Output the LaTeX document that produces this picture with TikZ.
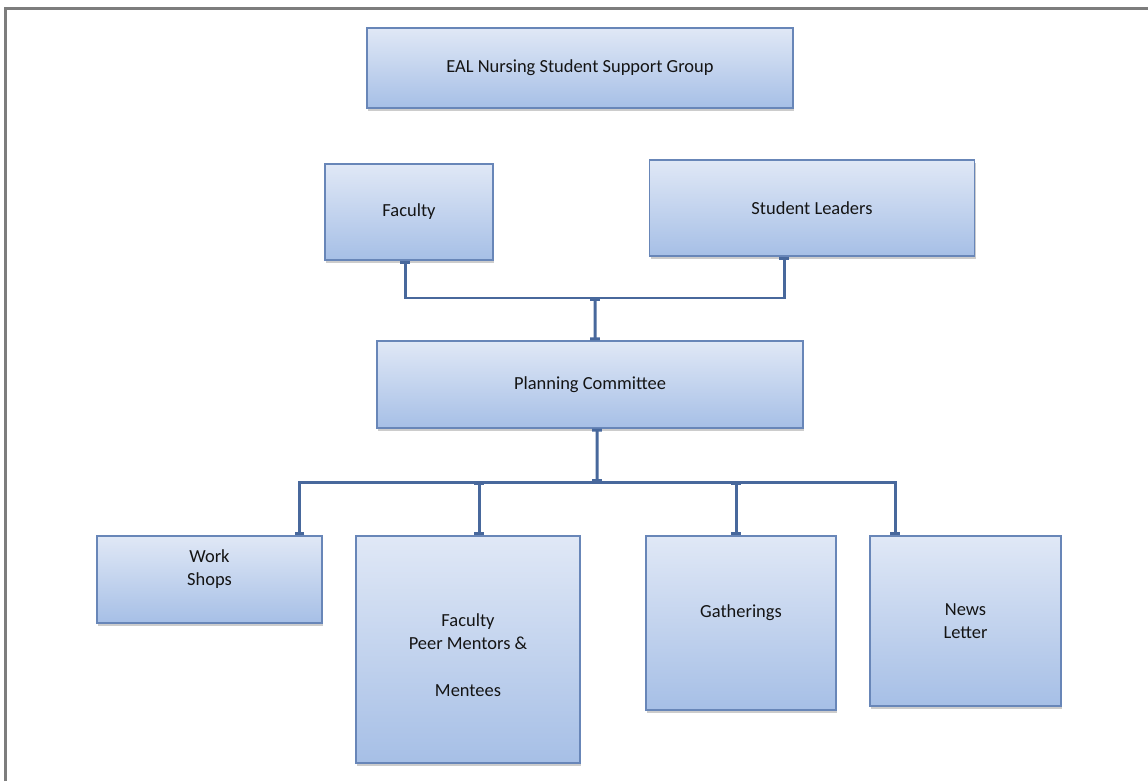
\documentclass[tikz,border=0pt]{standalone}
\usepackage{fontspec}
\setmainfont{Carlito}
\usetikzlibrary{arrows.meta,shadows}
\definecolor{boxTop}{RGB}{224,232,246}
\definecolor{boxBot}{RGB}{166,191,230}
\definecolor{boxLine}{RGB}{104,134,184}
\definecolor{linkLine}{RGB}{72,104,156}
\definecolor{frameGray}{RGB}{125,125,125}

\begin{document}
\begin{tikzpicture}[x=0.02cm, y=-0.02cm,
    every node/.style={font=\fontsize{10.5}{13.3}\selectfont, text=black!92},
    orgbox/.style={draw=boxLine, line width=0.7pt, top color=boxTop, bottom color=boxBot,
      align=center, inner sep=0pt,
      drop shadow={opacity=0.4, shadow xshift=0.8pt, shadow yshift=-1.6pt}},
    link/.style={draw=linkLine, line width=1.7pt, {Bar[width=5.5pt]}-{Bar[width=5.5pt]}}]
  \useasboundingbox (0,0) rectangle (1148,781);
  % outer frame, only its top and left edges show
  \draw[frameGray, line width=1.4pt] (5.5,781) |- (1148,8.5);

  % top rows
  \node (grp) [orgbox, minimum width=8.52cm, minimum height=1.6cm] at (580,68) {EAL Nursing Student Support Group};
  \node (fac) [orgbox, minimum width=3.36cm, minimum height=1.92cm] at (409,212) {Faculty};
  \node (lead) [orgbox, minimum width=6.5cm, minimum height=1.92cm] at (812,208) {Student Leaders};
  \node (plan) [orgbox, minimum width=8.52cm, minimum height=1.74cm] at (590,384.5) {Planning Committee};

  % bottom row (empty lines keep the text where the reference has it)
  \node (work) [orgbox, minimum width=4.5cm, minimum height=1.74cm] at (209.5,579.5) {Work\\Shops\\\mbox{}};
  \node (ment) [orgbox, minimum width=4.48cm, minimum height=4.54cm] at (468,649.5) {\mbox{}\\Faculty\\Peer Mentors \&\\\mbox{}\\Mentees};
  \node (gath) [orgbox, minimum width=3.8cm, minimum height=3.48cm] at (741,623) {Gatherings\\\mbox{}};
  \node (news) [orgbox, minimum width=3.82cm, minimum height=3.4cm] at (965.5,621) {News\\Letter};

  % joints of the connectors
  \coordinate (topbus) at (595,298);
  \coordinate (lowbus) at (597,482);

  % faculty and leaders into the committee
  \draw[link] ([xshift=-0.08cm]fac.south) |- (topbus) -| ([xshift=-0.56cm]lead.south);
  \draw[link] (topbus) -- ([xshift=0.1cm]plan.north);

  % committee out to the four activities
  \draw[link] ([xshift=0.14cm]plan.south) -- (lowbus);
  \draw[link] ([xshift=1.8cm]work.north) |- (lowbus) -| ([xshift=-1.41cm]news.north);
  \draw[link] ([xshift=0.22cm]ment.north |- lowbus) -- ([xshift=0.22cm]ment.north);
  \draw[link] ([xshift=-0.1cm]gath.north |- lowbus) -- ([xshift=-0.1cm]gath.north);
\end{tikzpicture}
\end{document}
